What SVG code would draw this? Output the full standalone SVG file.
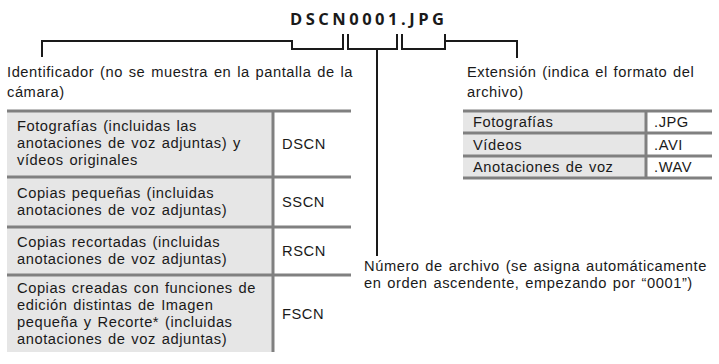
<svg xmlns="http://www.w3.org/2000/svg" width="719" height="364" viewBox="0 0 719 364">
<style>
.t{font-family:"Liberation Sans",Arial,sans-serif;font-size:14.7px;letter-spacing:0.55px;word-spacing:1.2px;fill:#1a1a1a}
.title{font-family:"Open Sans",sans-serif;font-weight:bold;font-size:16.5px;letter-spacing:3.5px;fill:#1a1a1a}
.cell{fill:#e6e6e6}
.bd{stroke:#808080;stroke-width:3;fill:none}
.ln{stroke:#1a1a1a;stroke-width:2;fill:none}
</style>
<rect width="719" height="364" fill="#fff"/>
<g id="title"><text class="title" x="290" y="25">DSCN0001.JPG</text></g>
<g id="connectors">
<polyline class="ln" points="42,57 42,41 292,41 292,49 343,49 343,34"/>
<polyline class="ln" points="348,34 348,49 397,49 397,34"/>
<line class="ln" x1="377" y1="49" x2="377" y2="256"/>
<polyline class="ln" points="402,34 402,49 445,49 445,34"/>
<polyline class="ln" points="445,41 517,41 517,58"/>
</g>
<g id="identificador">
<text class="t" x="7" y="77">Identificador (no se muestra en la pantalla de la</text>
<text class="t" x="7" y="97">cámara)</text>
</g>
<g id="table-id">
<rect class="cell" x="7" y="110" width="266" height="242"/>
<line class="bd" x1="7" y1="111" x2="351" y2="111"/>
<line class="bd" x1="7" y1="177" x2="351" y2="177"/>
<line class="bd" x1="7" y1="227" x2="351" y2="227"/>
<line class="bd" x1="7" y1="275" x2="351" y2="275"/>
<line class="bd" x1="273" y1="111" x2="273" y2="352"/>
<text class="t" x="17" y="131">Fotografías (incluidas las</text>
<text class="t" x="17" y="148">anotaciones de voz adjuntas) y</text>
<text class="t" x="17" y="165">vídeos originales</text>
<text class="t" x="282" y="149">DSCN</text>
<text class="t" x="17" y="198">Copias pequeñas (incluidas</text>
<text class="t" x="17" y="215">anotaciones de voz adjuntas)</text>
<text class="t" x="282" y="207">SSCN</text>
<text class="t" x="17" y="247">Copias recortadas (incluidas</text>
<text class="t" x="17" y="264">anotaciones de voz adjuntas)</text>
<text class="t" x="282" y="256">RSCN</text>
<text class="t" x="17" y="293">Copias creadas con funciones de</text>
<text class="t" x="17" y="310">edición distintas de Imagen</text>
<text class="t" x="17" y="327">pequeña y Recorte* (incluidas</text>
<text class="t" x="17" y="344">anotaciones de voz adjuntas)</text>
<text class="t" x="282" y="319">FSCN</text>
</g>
<g id="extension">
<text class="t" x="467" y="77">Extensión (indica el formato del</text>
<text class="t" x="467" y="97">archivo)</text>
</g>
<g id="table-ext">
<rect class="cell" x="463" y="110" width="183" height="69"/>
<line class="bd" x1="463" y1="111" x2="712" y2="111"/>
<line class="bd" x1="463" y1="133" x2="712" y2="133"/>
<line class="bd" x1="463" y1="156" x2="712" y2="156"/>
<line class="bd" x1="463" y1="178" x2="712" y2="178"/>
<line class="bd" x1="646" y1="111" x2="646" y2="178"/>
<text class="t" x="473" y="127">Fotografías</text>
<text class="t" x="654" y="127">.JPG</text>
<text class="t" x="473" y="150">Vídeos</text>
<text class="t" x="654" y="150">.AVI</text>
<text class="t" x="473" y="172">Anotaciones de voz</text>
<text class="t" x="654" y="172">.WAV</text>
</g>
<g id="numero">
<text class="t" x="364" y="271">Número de archivo (se asigna automáticamente</text>
<text class="t" x="364" y="288">en orden ascendente, empezando por “0001”)</text>
</g>
</svg>
